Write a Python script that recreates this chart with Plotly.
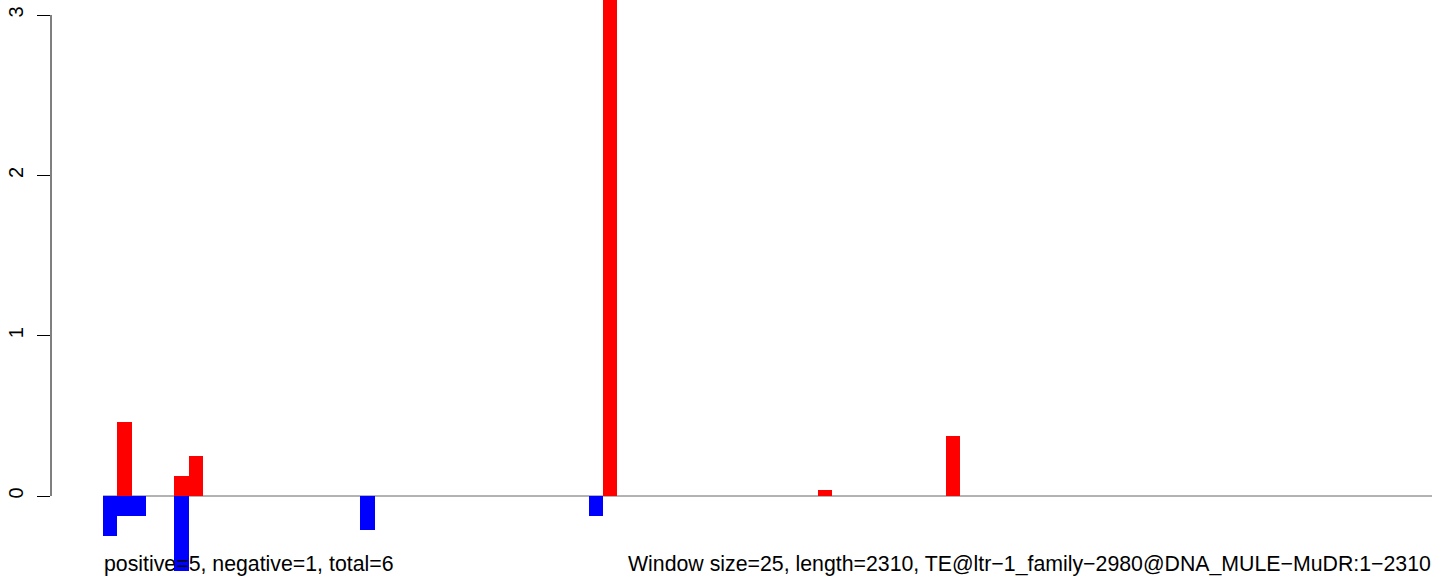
import plotly.graph_objects as go

window = 25
length = 2310
n_bins = 93

pos_bins = [1, 5, 6, 35, 50, 59]
pos_values = [0.46, 0.125, 0.25, 3.125, 0.04, 0.375]

neg_bins = [0, 1, 2, 5, 18, 34]
neg_values = [-0.25, -0.125, -0.125, -0.466, -0.21, -0.125]

y_ticks = [0, 1, 2, 3]
left_text = "positive=5, negative=1, total=6"
right_text = "Window size=25, length=2310, TE@ltr\u22121_family\u22122980@DNA_MULE\u2212MuDR:1\u22122310"

FONT = "Liberation Sans, Arial, Helvetica, sans-serif"

W, H = 1444, 582
L = 51
px_per_unit = (1432 - 103) / (n_bins * window)
x0 = -(103 - L) / px_per_unit
x1 = n_bins * window + (W - 1432) / px_per_unit
py = (496 - 15) / 3.0
y1 = 3 + 15 / py
y0 = -(H - 496) / py

fig = go.Figure()
fig.add_trace(go.Bar(
    x=[b * window + window / 2 for b in pos_bins], y=pos_values, width=window,
    marker=dict(color="#FF0000", line=dict(width=0)), showlegend=False,
))
fig.add_trace(go.Bar(
    x=[b * window + window / 2 for b in neg_bins], y=neg_values, width=window,
    marker=dict(color="#0000FF", line=dict(width=0)), showlegend=False,
))

fig.add_shape(type="line", xref="x", yref="y", x0=0, x1=n_bins * window, y0=0, y1=0,
              line=dict(color="#666666", width=1), layer="below")
fig.add_shape(type="line", xref="paper", yref="y", x0=0, x1=0, y0=y_ticks[0], y1=y_ticks[-1],
              line=dict(color="black", width=1))

fig.add_annotation(x=0, xref="x", xanchor="left", y=(H - 564) / H, yref="paper", yanchor="middle",
                   text=left_text, showarrow=False, borderpad=0,
                   font=dict(family=FONT, size=21.3, color="black"))
fig.add_annotation(x=n_bins * window, xref="x", xanchor="right", y=(H - 564) / H, yref="paper",
                   yanchor="middle", text=right_text, showarrow=False, borderpad=0,
                   font=dict(family=FONT, size=21.3, color="black"))

fig.update_layout(
    width=W, height=H, barmode="overlay", bargap=0,
    margin=dict(l=L, r=0, t=0, b=0, pad=0),
    plot_bgcolor="white", paper_bgcolor="white",
    font=dict(family=FONT, size=20, color="black"),
    xaxis=dict(range=[x0, x1], visible=False, fixedrange=True),
    yaxis=dict(range=[y0, y1], tickvals=y_ticks, ticktext=[str(t) for t in y_ticks],
               ticks="outside", ticklen=13, tickwidth=1, tickcolor="black", tickangle=-90,
               ticklabelstandoff=6, fixedrange=True,
               showgrid=False, zeroline=False, showline=False, automargin=False,
               tickfont=dict(family=FONT, size=20, color="black")),
)

fig.write_html("out.html", config={"displayModeBar": False},
               post_script="document.body.style.margin='0';document.body.style.overflow='hidden';")
